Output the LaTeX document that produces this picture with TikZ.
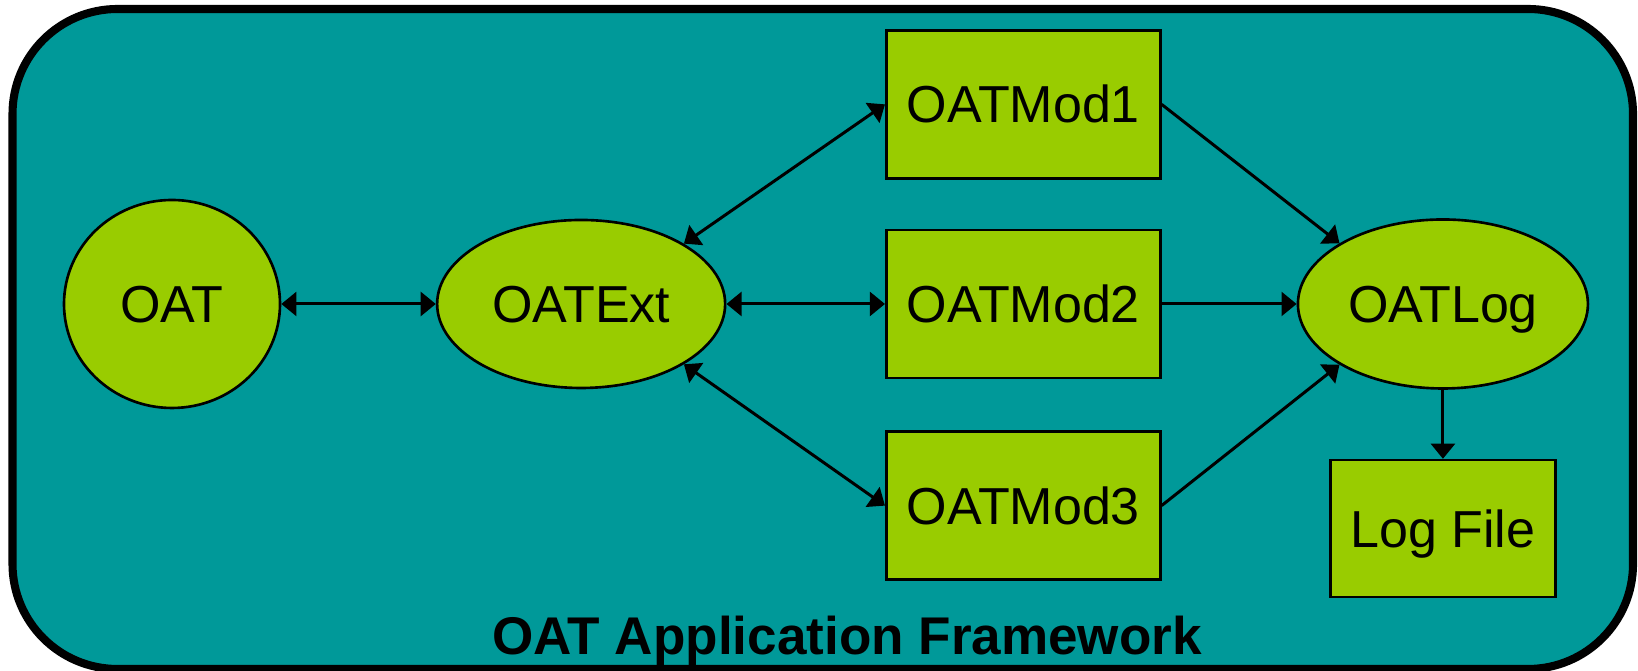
\documentclass[tikz,border=0pt]{standalone}
\usepackage{fontspec}
\setmainfont{Liberation Sans}
\usepackage{tikz}
\usepackage{xcolor}
\usetikzlibrary{shapes.geometric, arrows.meta, positioning}

\definecolor{frameteal}{RGB}{0,153,153}
\definecolor{partgreen}{RGB}{153,204,0}

\begin{document}
\begin{tikzpicture}[
    ell/.style={ellipse, draw, fill=partgreen, line width=0.75pt, inner sep=0pt, text height=0.37cm, text depth=0pt, font=\fontsize{14.8}{17}\selectfont},
    block/.style={rectangle, draw, fill=partgreen, line width=0.75pt, minimum width=2.74cm, minimum height=1.48cm, inner sep=0pt, text height=0.37cm, text depth=0pt, font=\fontsize{14.8}{17}\selectfont},
    arrow/.style={-{Triangle[length=4.3pt, width=6.8pt]}, line width=0.85pt},
    biarrow/.style={{Triangle[length=4.3pt, width=6.8pt]}-{Triangle[length=4.3pt, width=6.8pt]}, line width=0.85pt}
]
\useasboundingbox (0,0) rectangle (16.38,6.71);

% Framework
\draw[fill=frameteal, line width=2.3pt, rounded corners=1.05cm] (0.125,6.62) rectangle (16.33,0.02);
\node[anchor=base, font=\fontsize{15.1}{18}\selectfont\bfseries] (title) at (8.47,0.16) {OAT Application Framework};

% Application and extension
\node[ell, minimum width=2.16cm, minimum height=2.08cm] (oat) at (1.72,3.67) {OAT};
\node[ell, minimum width=2.88cm, minimum height=1.68cm, right=1.545cm of oat] (oatext) {OATExt};

% Modules
\node[block, right=1.585cm of oatext] (mod2) {OATMod2};
\node[block, above=0.49cm of mod2] (mod1) {OATMod1};
\node[block, below=0.51cm of mod2] (mod3) {OATMod3};

% Logging
\node[ell, minimum width=2.9cm, minimum height=1.69cm, right=1.35cm of mod2] (oatlog) {OATLog};
\node[block, minimum width=2.25cm, minimum height=1.37cm, below=0.69cm of oatlog] (logfile) {Log File};

% Arrows
\draw[biarrow] (oat) -- (oatext);
\draw[biarrow] (oatext.north east) -- (mod1.west);
\draw[biarrow] (oatext) -- (mod2);
\draw[biarrow] (oatext.south east) -- (mod3.west);
\draw[arrow] (mod1.east) -- (oatlog.north west);
\draw[arrow] (mod2) -- (oatlog);
\draw[arrow] (mod3.east) -- (oatlog.south west);
\draw[arrow] (oatlog) -- (logfile);

\end{tikzpicture}
\end{document}
